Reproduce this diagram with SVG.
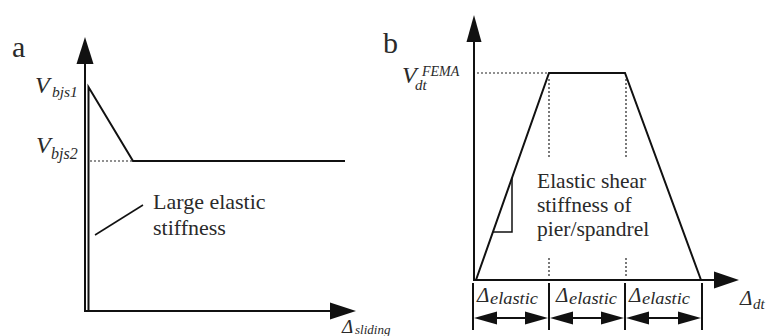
<svg xmlns="http://www.w3.org/2000/svg" width="768" height="336" viewBox="0 0 768 336">
<style>
.ln{stroke:#111;stroke-width:2;fill:none;stroke-linejoin:miter}
.thin{stroke:#111;stroke-width:1.5;fill:none}
.dot{stroke:#222;stroke-width:1.2;fill:none;stroke-dasharray:2 2}
.head{fill:#111;stroke:none}
.t{font-family:"Liberation Serif","Times New Roman",serif;fill:#2a2a2a}
.i{font-style:italic}
</style>
<rect width="768" height="336" fill="#fff"/>

<g id="panel-a">
  <text class="t" x="12" y="57" font-size="30">a</text>
  <g id="axes-a">
    <line class="ln" x1="85" y1="312" x2="85" y2="60"/>
    <polygon class="head" points="85,37 76.5,64 93.5,64"/>
    <line class="ln" x1="84" y1="311" x2="333" y2="311"/>
    <polygon class="head" points="356,311 330,302.5 330,319.5"/>
  </g>
  <g id="curve-a">
    <polyline class="ln" points="88.5,311 88.5,87 133,161 345,161"/>
    <line class="dot" x1="90" y1="161" x2="132" y2="161"/>
    <line class="thin" x1="95" y1="235" x2="143" y2="205"/>
  </g>
  <g id="labels-a">
    <text class="t i" x="35" y="93" font-size="24">V</text>
    <text class="t i" x="52" y="97" font-size="15.5">bjs1</text>
    <text class="t i" x="36" y="153" font-size="24">V</text>
    <text class="t i" x="51" y="159" font-size="16">bjs2</text>
    <text class="t" x="153" y="209" font-size="22">Large elastic</text>
    <text class="t" x="153" y="235" font-size="22">stiffness</text>
    <text class="t i" x="342" y="333" font-size="19">Δ</text>
    <text class="t i" x="355" y="334" font-size="13">sliding</text>
  </g>
</g>

<g id="panel-b">
  <text class="t" x="383" y="53" font-size="30">b</text>
  <g id="axes-b">
    <line class="ln" x1="474" y1="281" x2="474" y2="38"/>
    <polygon class="head" points="474,15 466.5,42 481.5,42"/>
    <line class="ln" x1="473" y1="280" x2="718" y2="280"/>
    <polygon class="head" points="739,280 714,271.5 714,288.5"/>
  </g>
  <g id="curve-b">
    <polyline class="ln" points="476,280 549,73 625,73 701,280"/>
    <line class="dot" x1="477" y1="73" x2="548" y2="73"/>
    <line class="dot" x1="549" y1="79" x2="549" y2="158"/>
    <line class="dot" x1="549" y1="258" x2="549" y2="278"/>
    <line class="dot" x1="626" y1="79" x2="626" y2="158"/>
    <line class="dot" x1="626" y1="258" x2="626" y2="278"/>
    <polyline class="thin" points="512,177.5 512,232 493,232"/>
  </g>
  <g id="labels-b">
    <text class="t i" x="402" y="83" font-size="24">V</text>
    <text class="t i" x="422" y="76" font-size="14">FEMA</text>
    <text class="t i" x="415" y="90" font-size="15">dt</text>
    <text class="t" x="537" y="188" font-size="21.5">Elastic shear</text>
    <text class="t" x="537" y="212" font-size="21.5">stiffness of</text>
    <text class="t" x="537" y="236" font-size="21.5">pier/spandrel</text>
    <text class="t i" x="740" y="305" font-size="21">Δ</text>
    <text class="t i" x="753" y="309" font-size="15">dt</text>
  </g>
  <g id="dimensions">
    <line class="ln" x1="473" y1="283" x2="473" y2="330"/>
    <line class="ln" x1="549" y1="283" x2="549" y2="330"/>
    <line class="ln" x1="625" y1="283" x2="625" y2="330"/>
    <line class="ln" x1="702" y1="283" x2="702" y2="330"/>

    <line class="ln" x1="490" y1="318" x2="532" y2="318"/>
    <polygon class="head" points="474,318 497,311.5 497,324.5"/>
    <polygon class="head" points="548,318 525,311.5 525,324.5"/>

    <line class="ln" x1="566" y1="318" x2="608" y2="318"/>
    <polygon class="head" points="550,318 573,311.5 573,324.5"/>
    <polygon class="head" points="624,318 601,311.5 601,324.5"/>

    <line class="ln" x1="642" y1="318" x2="685" y2="318"/>
    <polygon class="head" points="626,318 649,311.5 649,324.5"/>
    <polygon class="head" points="701,318 678,311.5 678,324.5"/>

    <text class="t i" x="477" y="302" font-size="21">Δ</text>
    <text class="t i" x="490" y="304" font-size="16.5" textLength="48" lengthAdjust="spacingAndGlyphs">elastic</text>
    <text class="t i" x="556" y="302" font-size="21">Δ</text>
    <text class="t i" x="569" y="304" font-size="16.5" textLength="48" lengthAdjust="spacingAndGlyphs">elastic</text>
    <text class="t i" x="629" y="302" font-size="21">Δ</text>
    <text class="t i" x="642" y="304" font-size="16.5" textLength="48" lengthAdjust="spacingAndGlyphs">elastic</text>
  </g>
</g>
</svg>
